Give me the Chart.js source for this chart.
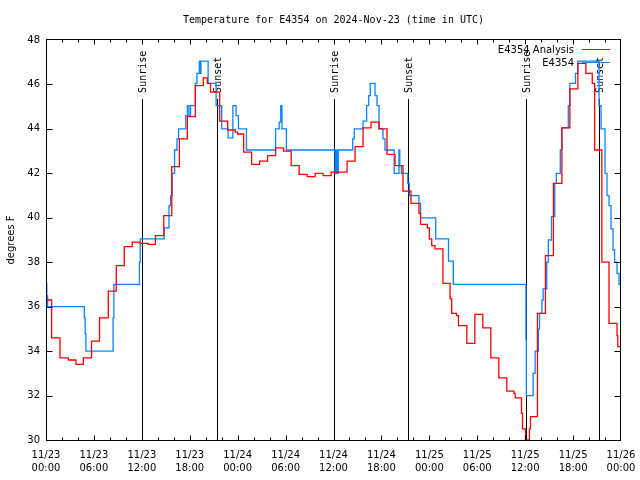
<!DOCTYPE html>
<html>
<head>
<meta charset="utf-8">
<title>Temperature for E4354</title>
<script src="https://cdn.jsdelivr.net/npm/chart.js@4/dist/chart.umd.min.js"></script>
<style>
    body { margin: 0; background: #fff; }
    #wrap { width: 640px; height: 480px; }
</style>
</head>
<body>
<div id="wrap"><canvas id="tempChart" width="640" height="480"></canvas></div>
<script>
// Hours since 11/23 00:00 UTC, and temperatures (deg F)
const analysisHours = [
    0, 0.7, 1.75, 2.8, 3.75, 4.67, 5.7, 6.7, 7.8, 8.8,
    9.8, 10.8, 11.8, 12.8, 13.7, 14.75, 15.75, 16.7, 17.7, 18.7,
    19.7, 20.2, 20.6, 21.75, 22.75, 23.7, 24.0, 24.75, 25.75, 26.75,
    27.75, 28.75, 29.75, 30.7, 31.7, 32.7, 33.7, 34.7, 35.7, 37.7,
    38.7, 39.7, 40.7, 41.7, 42.7, 43.7, 44.7, 45.7, 46.7, 46.9,
    47.75, 48.0, 48.3, 48.7, 49.7, 50.6, 50.8, 51.4, 51.65, 52.7,
    53.7, 54.7, 55.7, 56.7, 57.7, 58.6, 58.75, 59.54, 59.67, 60.04,
    60.54, 60.67, 61.54, 62.54, 63.54, 64.6, 65.6, 66.6, 67.6, 68.4,
    68.7, 69.6, 70.5, 71.5, 71.6, 72
];
const analysisTemps = [
    36.3, 34.6, 33.7, 33.6, 33.4, 33.7, 34.45, 35.5, 36.7, 37.85,
    38.7, 38.9, 38.85, 38.8, 39.2, 40.1, 42.3, 43.55, 44.55, 45.95,
    46.3, 46.05, 45.65, 44.35, 43.95, 43.85, 43.77, 42.95, 42.4, 42.55,
    42.8, 43.15, 43.0, 42.35, 41.95, 41.85, 42.0, 41.9, 42.05, 42.55,
    43.2, 44.05, 44.3, 44.0, 42.85, 42.35, 41.2, 40.65, 40.2, 39.7,
    39.55, 39.05, 38.75, 38.6, 37.05, 36.35, 35.7, 35.6, 35.15, 34.35,
    35.65, 35.05, 33.7, 32.8, 32.2, 32.1, 31.9, 31.2, 30.5, 30.0,
    30.5, 31.05, 35.7, 38.3, 41.55, 44.05, 45.8, 46.95, 46.5, 46.05,
    43.05, 38.0, 35.25, 34.7, 34.2, 34.2
];

const obsHours = [
    0, 0.1, 0.2, 4.8, 4.9, 5.0, 8.4, 8.5, 11.7, 11.8,
    14.8, 15.4, 15.6, 15.8, 16.1, 16.4, 16.6, 17.5, 17.7, 17.9,
    18.1, 18.7, 18.9, 19.2, 19.3, 19.4, 20.3, 21.3, 22.0, 22.8,
    23.4, 23.8, 24.1, 25.1, 28.75, 29.2, 29.4, 29.55, 30.1, 36.2,
    36.35, 36.45, 36.6, 38.4, 38.6, 39.7, 40.15, 40.4, 40.6, 41.2,
    41.45, 41.7, 42.2, 42.45, 43.6, 44.2, 44.3, 44.5, 45.3, 45.5,
    46.7, 46.9, 48.8, 50.4, 51.0, 60.1, 60.15, 61.0, 61.25, 61.65,
    61.8, 62.1, 62.25, 62.7, 62.9, 63.3, 63.7, 63.9, 64.4, 64.6,
    65.4, 65.6, 66.3, 66.6, 69.25, 69.5, 70.0, 70.25, 70.5, 70.75,
    71.0, 71.2, 71.5, 71.75, 72
];
const obsTemps = [
    37.05, 36.5, 36.0, 35.5, 34.8, 34.0, 35.5, 37.0, 38.0, 39.05,
    39.55, 40.55, 41.0, 42.0, 43.05, 43.55, 44.0, 44.6, 45.05, 44.6,
    45.05, 46.05, 46.5, 47.05, 46.5, 47.05, 46.05, 45.05, 44.0, 43.6,
    45.05, 44.6, 44.0, 43.05, 44.0, 44.3, 45.05, 44.0, 43.05, 42.0,
    43.05, 42.0, 43.05, 43.55, 44.0, 44.35, 45.05, 45.5, 46.05, 45.5,
    45.05, 44.0, 43.55, 43.05, 42.0, 43.05, 42.35, 42.0, 41.55, 41.0,
    40.65, 40.0, 39.05, 38.05, 37.0, 34.5, 32.0, 33.0, 34.0, 35.0,
    35.7, 36.3, 36.8, 38.0, 39.0, 40.05, 41.55, 42.0, 43.05, 44.05,
    45.05, 46.05, 46.5, 47.05, 45.05, 44.0, 42.0, 41.0, 40.55, 39.5,
    38.55, 38.0, 37.5, 37.0, 37.0
];

// Sunrise / sunset markers (hours since start)
const sunHours = [12.05, 21.4, 36.05, 45.3, 60.05, 69.25];
const sunNames = ['Sunrise', 'Sunset', 'Sunrise', 'Sunset', 'Sunrise', 'Sunset'];

// Axis tick labels
const dayLabels = ['11/23', '11/24', '11/25', '11/26'];
const hourLabels = ['00:00', '06:00', '12:00', '18:00'];

const chartTitle = 'Temperature for E4354 on 2024-Nov-23 (time in UTC)';
const monoFont = '10px "DejaVu Sans Mono", monospace';
const sansFont = '10px "DejaVu Sans", sans-serif';

function toPoints(xs, ys) {
    return xs.map((x, i) => ({ x: x, y: ys[i] }));
}

// Draws the gnuplot-like frame, inward ticks, sun markers, title and legend
const gnuplotLook = {
    id: 'gnuplotLook',
    beforeDatasetsDraw(chart) {
        const ctx = chart.ctx;
        const xs = chart.scales.x;
        const ys = chart.scales.y;
        const lineTop = ys.getPixelForValue(45.35);
        ctx.save();
        ctx.strokeStyle = '#000';
        ctx.lineWidth = 1;
        ctx.fillStyle = '#000';
        ctx.font = monoFont;
        ctx.textBaseline = 'middle';
        ctx.textAlign = 'left';
        sunHours.forEach((h, i) => {
            const px = Math.round(xs.getPixelForValue(h)) + 0.5;
            ctx.beginPath();
            ctx.moveTo(px, lineTop);
            ctx.lineTo(px, ys.getPixelForValue(30));
            ctx.stroke();
            ctx.save();
            ctx.translate(px + 1, lineTop - 6);
            ctx.rotate(-Math.PI / 2);
            ctx.fillText(sunNames[i], 0, 0);
            ctx.restore();
        });
        ctx.restore();
    },
    afterDatasetsDraw(chart) {
        const ctx = chart.ctx;
        const area = chart.chartArea;
        ctx.save();
        ctx.font = sansFont;
        ctx.textAlign = 'right';
        ctx.textBaseline = 'middle';
        chart.data.datasets.forEach((ds, i) => {
            const y = area.top + 9.5 + i * 13;
            ctx.fillStyle = '#000';
            ctx.fillText(ds.label, area.right - 47, y + 0.5);
            ctx.strokeStyle = ds.borderColor;
            ctx.lineWidth = 1;
            ctx.beginPath();
            ctx.moveTo(area.right - 39, y);
            ctx.lineTo(area.right - 11, y);
            ctx.stroke();
        });
        ctx.restore();
    },
    afterDraw(chart) {
        const ctx = chart.ctx;
        const area = chart.chartArea;
        const xs = chart.scales.x;
        const ys = chart.scales.y;
        ctx.save();
        ctx.strokeStyle = '#000';
        ctx.lineWidth = 1;
        const l = Math.round(area.left) + 0.5;
        const r = Math.round(area.right) - 0.5;
        const t = Math.round(area.top) - 0.5;
        const b = Math.round(area.bottom) + 0.5;
        ctx.strokeRect(l, t, r - l, b - t);
        ctx.beginPath();
        for (let h = 2; h < 72; h += 2) {
            const px = Math.round(xs.getPixelForValue(h)) + 0.5;
            const len = h % 6 === 0 ? 5 : 3;
            ctx.moveTo(px, b); ctx.lineTo(px, b - len);
            ctx.moveTo(px, t); ctx.lineTo(px, t + len);
        }
        for (let v = 32; v < 48; v += 2) {
            const py = Math.round(ys.getPixelForValue(v)) + 0.5;
            ctx.moveTo(l, py); ctx.lineTo(l + 6, py);
            ctx.moveTo(r, py); ctx.lineTo(r - 6, py);
        }
        ctx.stroke();
        ctx.fillStyle = '#000';
        ctx.font = monoFont;
        ctx.textAlign = 'center';
        ctx.textBaseline = 'middle';
        ctx.fillText(chartTitle, (area.left + area.right) / 2, 20);
        ctx.restore();
    }
};

const ctx = document.getElementById('tempChart').getContext('2d');
const myChart = new Chart(ctx, {
    type: 'line',
    data: {
        datasets: [{
            label: 'E4354 Analysis',
            data: toPoints(analysisHours, analysisTemps),
            borderColor: '#ff0000',
            borderWidth: 1.3,
            stepped: true,
            pointRadius: 0,
            fill: false
        }, {
            label: 'E4354',
            data: toPoints(obsHours, obsTemps),
            borderColor: '#0a84ff',
            borderWidth: 1.3,
            stepped: true,
            pointRadius: 0,
            fill: false
        }]
    },
    options: {
        responsive: false,
        animation: false,
        events: [],
        layout: { padding: { top: 40, right: 19, left: 0, bottom: 0 } },
        plugins: {
            legend: { display: false },
            title: { display: false },
            tooltip: { enabled: false }
        },
        scales: {
            x: {
                type: 'linear',
                min: 0,
                max: 72,
                afterFit(scale) {
                    // fixed axis band, and let the end labels hang into the margins
                    scale.height = 40;
                    scale.paddingLeft = 0;
                    scale.paddingRight = 0;
                },
                grid: { display: false, drawTicks: false },
                border: { display: false },
                ticks: {
                    stepSize: 6,
                    autoSkip: false,
                    maxRotation: 0,
                    padding: 9,
                    color: '#000',
                    font: { family: 'DejaVu Sans', size: 10, lineHeight: 1.3 },
                    callback(value) {
                        const day = Math.floor(value / 24);
                        const slot = Math.round((value % 24) / 6);
                        return [dayLabels[day], hourLabels[slot]];
                    }
                }
            },
            y: {
                min: 30,
                max: 48,
                afterFit(scale) { scale.width = 46; },
                grid: { display: false, drawTicks: false },
                border: { display: false },
                ticks: {
                    stepSize: 2,
                    padding: 6,
                    color: '#000',
                    font: { family: 'DejaVu Sans', size: 10 }
                },
                title: {
                    display: true,
                    text: 'degrees F',
                    color: '#000',
                    padding: { top: 5, bottom: 0 },
                    font: { family: 'DejaVu Sans', size: 10 }
                }
            }
        }
    },
    plugins: [gnuplotLook]
});
</script>
</body>
</html>
